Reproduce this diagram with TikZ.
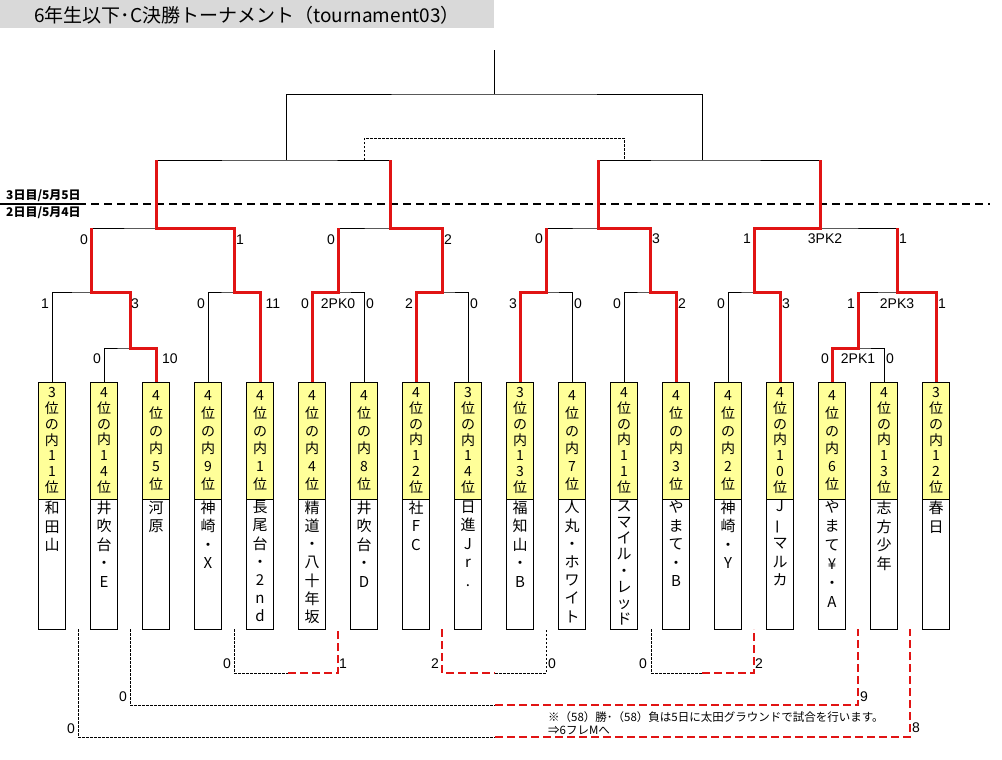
\documentclass[tikz,border=0pt]{standalone}
\usepackage{fontspec}
\setmainfont{Liberation Sans}
\newfontfamily\jp{Noto Sans CJK JP}
\definecolor{winred}{RGB}{225,20,20}
\definecolor{rankyel}{RGB}{255,255,153}
\definecolor{titlegray}{RGB}{217,217,217}
\newcommand\teamcol[6]{%
  \node[rankbox] (r#1) at (#2,440.5) {};
  \node[namebox] (n#1) at (#2,564) {};
  \node[ranktxt, font=\jp\fontsize{14}{#3}\selectfont] (rt#1) at (r#1.center) {#4};
  \node[nametxt, font=\jp\fontsize{15}{#5}\selectfont] (nt#1) at ([yshift=-2pt]n#1.north) {#6};
}
\newcommand\vbar{\rotatebox[origin=c]{90}{ー}}
\begin{document}
\begin{tikzpicture}[x=1pt,y=-1pt,
  bline/.style={black, line width=0.9pt},
  win/.style={winred, line width=3pt, line join=miter},
  dotl/.style={black, line width=0.8pt, dash pattern=on 2.5pt off 1.5pt},
  reddash/.style={winred, line width=2pt, dash pattern=on 8pt off 4pt},
  score/.style={font=\fontsize{14}{14}\selectfont, inner sep=0pt},
  rankbox/.style={draw, line width=0.9pt, fill=rankyel, minimum width=27pt, minimum height=117pt, inner sep=0pt},
  namebox/.style={draw, line width=0.9pt, fill=white, minimum width=27pt, minimum height=130pt, inner sep=0pt},
  ranktxt/.style={align=center, inner sep=0pt},
  nametxt/.style={align=center, inner sep=0pt, anchor=north},
  datelbl/.style={font=\jp\bfseries\fontsize{12}{12}\selectfont, inner sep=0pt, anchor=west},
]
\useasboundingbox (0,0) rectangle (1002,760);
\fill[white] (0,0) rectangle (1002,760);

% title
\node[fill=titlegray, minimum width=494pt, minimum height=28pt, inner sep=0pt, anchor=north west] (titlebg) at (0,0) {};
\node[font=\jp\fontsize{19}{19}\selectfont, inner sep=0pt] (title) at (247,15) {6年生以下･C決勝トーナメント（tournament03）};

% date line
\draw[black, line width=2pt, dash pattern=on 8pt off 5pt] (0,204) -- (990,204);
\draw[black, line width=2pt] (6,204) -- (84,204);
\node[datelbl] (d3) at (6,196) {3日目/5月5日};
\node[datelbl] (d2) at (6,212.5) {2日目/5月4日};

% team columns
\teamcol{1}{52}{15.8}{3\\位\\の\\内\\1\\1\\位}{18.8}{和\\田\\山}
\teamcol{2}{104}{15.8}{4\\位\\の\\内\\1\\4\\位}{18.5}{井\\吹\\台\\・\\E}
\teamcol{3}{156}{17.8}{4\\位\\の\\内\\5\\位}{18.8}{河\\原}
\teamcol{4}{208}{17.8}{4\\位\\の\\内\\9\\位}{18.5}{神\\崎\\・\\X}
\teamcol{5}{260}{17.8}{4\\位\\の\\内\\1\\位}{18.2}{長\\尾\\台\\・\\2\\n\\d}
\teamcol{6}{312}{17.8}{4\\位\\の\\内\\4\\位}{18.2}{精\\道\\・\\八\\十\\年\\坂}
\teamcol{7}{364}{17.8}{4\\位\\の\\内\\8\\位}{18.5}{井\\吹\\台\\・\\D}
\teamcol{8}{416}{15.8}{4\\位\\の\\内\\1\\2\\位}{18.5}{社\\F\\C}
\teamcol{9}{468}{15.8}{3\\位\\の\\内\\1\\4\\位}{18.5}{日\\進\\J\\r\\.}
\teamcol{10}{520}{15.8}{3\\位\\の\\内\\1\\3\\位}{18.5}{福\\知\\山\\・\\B}
\teamcol{11}{572}{17.8}{4\\位\\の\\内\\7\\位}{18.2}{人\\丸\\・\\ホ\\ワ\\イ\\ト}
\teamcol{12}{624}{15.8}{4\\位\\の\\内\\1\\1\\位}{16.2}{ス\\マ\\イ\\ル\\・\\レ\\ッ\\ド}
\teamcol{13}{676}{17.8}{4\\位\\の\\内\\3\\位}{18.5}{や\\ま\\て\\・\\B}
\teamcol{14}{728}{17.8}{4\\位\\の\\内\\2\\位}{18.5}{神\\崎\\・\\Y}
\teamcol{15}{780}{15.8}{4\\位\\の\\内\\1\\0\\位}{18.5}{J\\\vbar\\マ\\ル\\カ}
\teamcol{16}{832}{17.8}{4\\位\\の\\内\\6\\位}{19}{や\\ま\\て\\¥\\・\\A}
\teamcol{17}{884}{15.8}{4\\位\\の\\内\\1\\3\\位}{18.8}{志\\方\\少\\年}
\teamcol{18}{936}{15.8}{3\\位\\の\\内\\1\\2\\位}{18.8}{春\\日}

% junction coordinates
\coordinate (a1) at (130,348);
\coordinate (b1) at (91,292);
\coordinate (c1) at (234,292);
\coordinate (d1) at (338,292);
\coordinate (e1) at (442,292);
\coordinate (f1) at (156,228);
\coordinate (g1) at (390,228);
\coordinate (s1) at (286,160);
\coordinate (h1) at (546,292);
\coordinate (i1) at (650,292);
\coordinate (j1) at (598,228);
\coordinate (k1) at (754,292);
\coordinate (l1) at (858,348);
\coordinate (m1) at (897,292);
\coordinate (nn) at (820,228);
\coordinate (s2) at (702,160);
\coordinate (fin) at (494,94);
\coordinate (top) at (494,50);
\coordinate (tp1) at (364,160);
\coordinate (tp2) at (624,160);
\coordinate (tpm) at (494,138);

% black bracket
\draw[bline] (r2.north) |- (a1) -| (r3.north);
\draw[bline] (r1.north) |- (b1) -| (a1);
\draw[bline] (r4.north) |- (c1) -| (r5.north);
\draw[bline] (r6.north) |- (d1) -| (r7.north);
\draw[bline] (r8.north) |- (e1) -| (r9.north);
\draw[bline] (b1) |- (f1) -| (c1);
\draw[bline] (d1) |- (g1) -| (e1);
\draw[bline] (f1) |- (s1) -| (g1);
\draw[bline] (r10.north) |- (h1) -| (r11.north);
\draw[bline] (r12.north) |- (i1) -| (r13.north);
\draw[bline] (h1) |- (j1) -| (i1);
\draw[bline] (r14.north) |- (k1) -| (r15.north);
\draw[bline] (r16.north) |- (l1) -| (r17.north);
\draw[bline] (l1) |- (m1) -| (r18.north);
\draw[bline] (k1) |- (nn) -| (m1);
\draw[bline] (j1) |- (s2) -| (nn);
\draw[bline] (s1) |- (fin) -| (s2);
\draw[bline] (fin) -- (top);
\draw[dotl] (tp1) |- (tpm) -| (tp2);

% winners
\draw[win] (r3.north) |- (a1) |- (b1) -- (b1 |- f1);
\draw[win] (r5.north) |- (c1) |- (f1) -- (f1 |- s1);
\draw[win] (r6.north) |- (d1) -- (d1 |- g1);
\draw[win] (r8.north) |- (e1) |- (g1) -- (g1 |- s1);
\draw[win] (r10.north) |- (h1) -- (h1 |- j1);
\draw[win] (r13.north) |- (i1) |- (j1) -- (j1 |- s2);
\draw[win] (r15.north) |- (k1) |- (nn) -- (nn |- s2);
\draw[win] (r16.north) |- (l1) -- (l1 |- m1);
\draw[win] (r18.north) |- (m1) -- (m1 |- nn);

% scores
\node[score] (sc1) at (84,240) {0};
\node[score] (sc2) at (240,240) {1};
\node[score] (sc3) at (331,240) {0};
\node[score] (sc4) at (448,240) {2};
\node[score] (sc5) at (539,239) {0};
\node[score] (sc6) at (656,239) {3};
\node[score] (sc7) at (747,239) {1};
\node[score] (sc8) at (825,239) {3PK2};
\node[score] (sc9) at (903,239) {1};
\node[score] (sc10) at (45,304) {1};
\node[score] (sc11) at (135,304) {3};
\node[score] (sc12) at (201,304) {0};
\node[score] (sc13) at (273,304) {11};
\node[score] (sc14) at (305,304) {0};
\node[score] (sc15) at (338,304) {2PK0};
\node[score] (sc16) at (370,304) {0};
\node[score] (sc17) at (409,304) {2};
\node[score] (sc18) at (474,304) {0};
\node[score] (sc19) at (513,304) {3};
\node[score] (sc20) at (578,304) {0};
\node[score] (sc21) at (617,304) {0};
\node[score] (sc22) at (682,304) {2};
\node[score] (sc23) at (721,304) {0};
\node[score] (sc24) at (786,304) {3};
\node[score] (sc25) at (851,304) {1};
\node[score] (sc26) at (897,304) {2PK3};
\node[score] (sc27) at (942,304) {1};
\node[score] (sc28) at (97,359) {0};
\node[score] (sc29) at (170,359) {10};
\node[score] (sc30) at (825,359) {0};
\node[score] (sc31) at (858,359) {2PK1};
\node[score] (sc32) at (890,359) {0};

% lower (loser) matches
\coordinate (u1) at (78,629);
\coordinate (u2) at (130,629);
\coordinate (u3) at (234,629);
\coordinate (u4) at (338,629);
\coordinate (u5) at (442,629);
\coordinate (u6) at (546,629);
\coordinate (u7) at (651,629);
\coordinate (u8) at (754,629);
\coordinate (u9) at (858,629);
\coordinate (u10) at (910,629);
\coordinate (v1) at (495,737);
\coordinate (v2) at (495,705);
\coordinate (v3) at (288,673);
\coordinate (v4) at (495,673);
\coordinate (v5) at (702,673);
\draw[dotl] (u1) |- (v1);
\draw[reddash] (v1) -| (u10);
\draw[dotl] (u2) |- (v2);
\draw[reddash] (v2) -| (u9);
\draw[dotl] (u3) |- (v3);
\draw[reddash] (v3) -| (u4);
\draw[reddash] (u5) |- (v4);
\draw[dotl] (v4) -| (u6);
\draw[dotl] (u7) |- (v5);
\draw[reddash] (v5) -| (u8);

\node[score] (lb1) at (71,729) {0};
\node[score] (lb2) at (123,697) {0};
\node[score] (lb3) at (227,664) {0};
\node[score] (lb4) at (343,664) {1};
\node[score] (lb5) at (435,664) {2};
\node[score] (lb6) at (552,664) {0};
\node[score] (lb7) at (643,664) {0};
\node[score] (lb8) at (759,664) {2};
\node[score] (lb9) at (864,697) {9};
\node[score] (lb10) at (916,728) {8};

\node[font=\jp\fontsize{11.5}{13}\selectfont, inner sep=0pt, anchor=west] (note1) at (548,717) {※（58）勝･（58）負は5日に太田グラウンドで試合を行います。};
\node[font=\jp\fontsize{11.5}{13}\selectfont, inner sep=0pt, anchor=west] (note2) at (548,730) {⇒6フレMへ};
\end{tikzpicture}
\end{document}
